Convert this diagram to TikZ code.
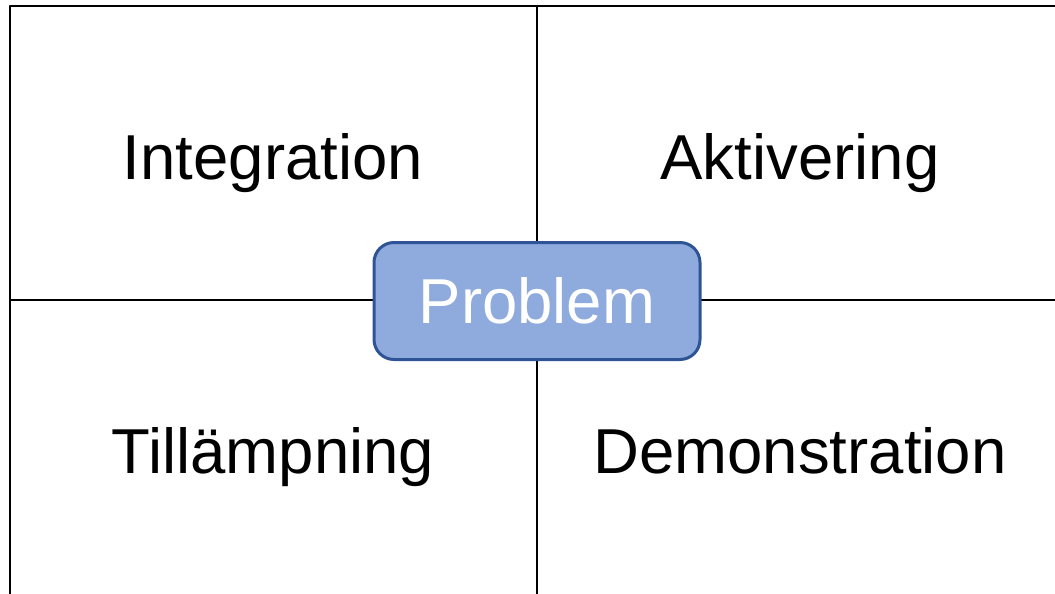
\documentclass[tikz,border=0pt]{standalone}
\usepackage{fontspec}
\setmainfont{Liberation Sans}
\definecolor{boxfill}{HTML}{8FAADC}
\definecolor{boxline}{HTML}{2F5496}
\tikzset{
  celltext/.style={font=\fontsize{63.5}{75}\selectfont, inner sep=0pt, anchor=base},
  problembox/.style={draw=boxline, line width=3pt, fill=boxfill, rounded corners=20pt,
    minimum width=326pt, minimum height=117pt, text=white, font=\fontsize{63.5}{75}\selectfont}
}
\begin{document}
\begin{tikzpicture}[x=1pt,y=-1pt,line join=round]
\def \xmid{537};
\def \ymid{300};
\useasboundingbox (0,0) rectangle (1055,594);
\clip (0,0) rectangle (1055,594);
% grid
\draw[line width=2.5pt] (10,620) -- (10,6) -- (1080,6);
\draw[line width=2pt] (\xmid,6) -- (\xmid,620) (10,\ymid) -- (1080,\ymid);
% labels
\node[celltext] (integration) at (273,179) {Integration};
\node[celltext] (aktivering) at (800,179) {Aktivering};
\node[celltext] (tillampning) at (273,473) {Tillämpning};
\node[celltext] (demonstration) at (800,473) {Demonstration};
\node[problembox] (problem) at (\xmid,301) {Problem};
\end{tikzpicture}
\end{document}
